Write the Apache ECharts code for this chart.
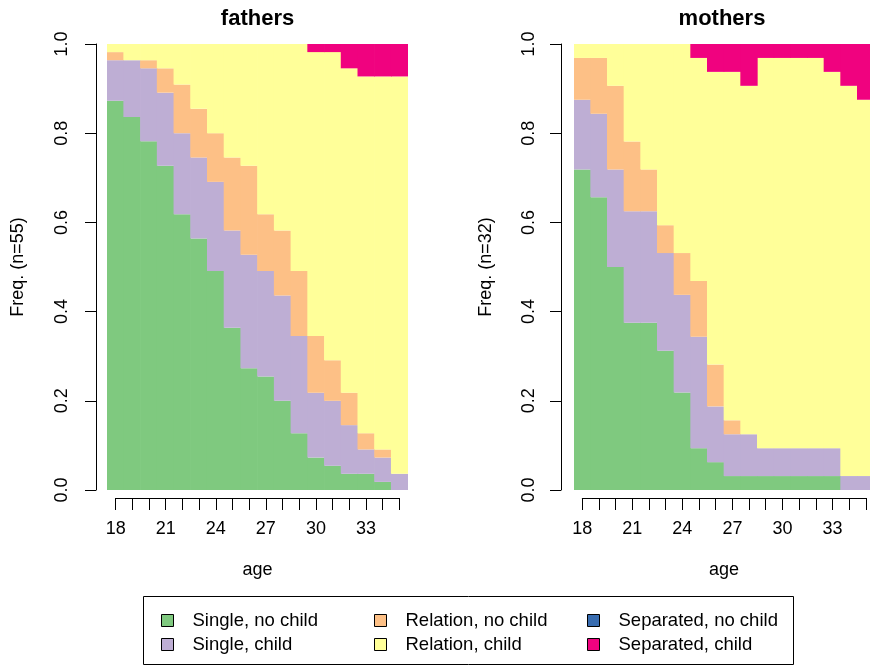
<!DOCTYPE html>
<html>
<head>
<meta charset="utf-8">
<script src="https://cdn.jsdelivr.net/npm/echarts@6/dist/echarts.min.js"></script>
<style>
    html, body { margin: 0; padding: 0; background: #fff; }
    #chart { width: 870px; height: 666px; }
</style>
</head>
<body>
<div id="chart"></div>
<script>
const ages = ['18', '19', '20', '21', '22', '23', '24', '25', '26', '27', '28', '29', '30', '31', '32', '33', '34', '35']
const tickLabels = ['18', '21', '24', '27', '30', '33']
const states = ['Single, no child', 'Single, child', 'Relation, no child', 'Relation, child', 'Separated, no child', 'Separated, child']
const stateColors = ['#7FC97F', '#BEAED4', '#FDC086', '#FFFF99', '#386CB0', '#F0027F']

// counts per age, fathers (n=55)
const fathersN = 55
const fathersSingleNoChild = [48, 46, 43, 40, 34, 31, 27, 20, 15, 14, 11, 7, 4, 3, 2, 2, 1, 0]
const fathersSingleChild = [5, 7, 9, 9, 10, 10, 11, 12, 14, 13, 13, 12, 8, 8, 6, 3, 3, 2]
const fathersRelationNoChild = [1, 0, 1, 3, 6, 6, 6, 9, 11, 7, 8, 8, 7, 5, 4, 2, 1, 0]
const fathersRelationChild = [1, 2, 2, 3, 5, 8, 11, 14, 15, 21, 23, 28, 35, 38, 40, 44, 46, 49]
const fathersSeparatedNoChild = [0, 0, 0, 0, 0, 0, 0, 0, 0, 0, 0, 0, 0, 0, 0, 0, 0, 0]
const fathersSeparatedChild = [0, 0, 0, 0, 0, 0, 0, 0, 0, 0, 0, 0, 1, 1, 3, 4, 4, 4]

// counts per age, mothers (n=32)
const mothersN = 32
const mothersSingleNoChild = [23, 21, 16, 12, 12, 10, 7, 3, 2, 1, 1, 1, 1, 1, 1, 1, 0, 0]
const mothersSingleChild = [5, 6, 7, 8, 8, 7, 7, 8, 4, 3, 3, 2, 2, 2, 2, 2, 1, 1]
const mothersRelationNoChild = [3, 4, 6, 5, 3, 2, 3, 4, 3, 1, 0, 0, 0, 0, 0, 0, 0, 0]
const mothersRelationChild = [1, 1, 3, 7, 9, 13, 15, 16, 21, 25, 25, 28, 28, 28, 28, 27, 28, 27]
const mothersSeparatedNoChild = [0, 0, 0, 0, 0, 0, 0, 0, 0, 0, 0, 0, 0, 0, 0, 0, 0, 0]
const mothersSeparatedChild = [0, 0, 0, 0, 0, 0, 0, 1, 2, 2, 3, 1, 1, 1, 1, 2, 3, 4]

const fathers = [fathersSingleNoChild, fathersSingleChild, fathersRelationNoChild, fathersRelationChild, fathersSeparatedNoChild, fathersSeparatedChild]
const mothers = [mothersSingleNoChild, mothersSingleChild, mothersRelationNoChild, mothersRelationChild, mothersSeparatedNoChild, mothersSeparatedChild]

const font = 'Liberation Sans, Arial, Helvetica, sans-serif'

// proportion of the group; empty cells left out
const share = (counts, n) => counts.map(c => c === 0 ? '-' : c / n)

const barSeries = (groups, n, idx, stack) => groups.map((counts, i) => ({
    name: states[i],
    type: 'bar',
    stack: stack,
    xAxisIndex: idx,
    yAxisIndex: idx,
    data: share(counts, n),
    // a touch wider than the band so neighbouring columns leave no seam
    barWidth: '104%',
    barCategoryGap: '0%',
    itemStyle: { color: stateColors[i] },
    emphasis: { disabled: true }
}))

const freqAxis = (idx, name, offset, nameGap, margin) => ({
    type: 'value',
    gridIndex: idx,
    min: 0,
    max: 1,
    interval: 0.2,
    offset: offset,
    name: name,
    nameLocation: 'middle',
    nameGap: nameGap,
    nameTextStyle: { fontSize: 18, color: '#000', fontFamily: font },
    axisLine: { show: true, lineStyle: { color: '#000', width: 1 } },
    axisTick: { show: true, inside: false, length: 11, lineStyle: { color: '#000' } },
    axisLabel: {
        rotate: 90,
        margin: margin,
        fontSize: 18,
        color: '#000',
        fontFamily: font,
        formatter: v => v.toFixed(1)
    },
    splitLine: { show: false }
})

const ageAxis = (idx) => ({
    type: 'category',
    gridIndex: idx,
    data: ages,
    boundaryGap: false,
    name: 'age',
    nameLocation: 'middle',
    nameGap: 63,
    nameTextStyle: { fontSize: 18, color: '#000', fontFamily: font },
    axisLine: { show: true, lineStyle: { color: '#000', width: 1 } },
    axisTick: { show: true, inside: false, length: 12, interval: 0, lineStyle: { color: '#000' } },
    axisLabel: {
        interval: 0,
        margin: 22,
        fontSize: 18,
        color: '#000',
        fontFamily: font,
        formatter: v => tickLabels.includes(v) ? v : ''
    }
})

const hiddenCat = (idx) => ({
    type: 'category',
    gridIndex: idx,
    data: ages,
    boundaryGap: true,
    show: false
})

const hiddenVal = (idx) => ({
    type: 'value',
    gridIndex: idx,
    min: 0,
    max: 1,
    show: false
})

const legendBlock = (left, names) => ({
    orient: 'vertical',
    left: left,
    top: 611,
    padding: 0,
    itemGap: 5,
    itemWidth: 12,
    itemHeight: 12,
    icon: 'rect',
    selectedMode: false,
    data: names,
    itemStyle: { borderColor: '#000', borderWidth: 1 },
    textStyle: { fontSize: 18.5, color: '#000', fontFamily: font, padding: [0, 0, 0, 14] }
})

const option = {
    animation: false,
    backgroundColor: '#fff',
    title: [
        { text: 'fathers', left: 257.5, top: 8, padding: 0, textAlign: 'center', textStyle: { fontSize: 22, fontWeight: 'bold', color: '#000', fontFamily: font } },
        { text: 'mothers', left: 722, top: 8, padding: 0, textAlign: 'center', textStyle: { fontSize: 22, fontWeight: 'bold', color: '#000', fontFamily: font } }
    ],
    legend: [
        legendBlock(161, [states[0], states[1]]),
        legendBlock(374, [states[2], states[3]]),
        legendBlock(587, [states[4], states[5]])
    ],
    grid: [
        { left: 107, top: 44, width: 301, height: 446, outerBoundsMode: 'none' },
        { left: 574, top: 44, width: 300, height: 446, outerBoundsMode: 'none' },
        { left: 115.7, top: 497, width: 283.6, height: 1, outerBoundsMode: 'none' },
        { left: 582.3, top: 497, width: 283.5, height: 1, outerBoundsMode: 'none' }
    ],
    xAxis: [hiddenCat(0), hiddenCat(1), ageAxis(2), ageAxis(3)],
    yAxis: [
        freqAxis(0, 'Freq. (n=55)', 11, 69, 25),
        freqAxis(1, 'Freq. (n=32)', 13, 66, 23),
        hiddenVal(2),
        hiddenVal(3)
    ],
    graphic: [{
        type: 'rect',
        shape: { x: 143.5, y: 596.5, width: 650, height: 68 },
        style: { fill: 'none', stroke: '#000', lineWidth: 1 },
        silent: true
    }],
    series: [
        ...barSeries(fathers, fathersN, 0, 'fathers'),
        ...barSeries(mothers, mothersN, 1, 'mothers')
    ]
}

const chart = echarts.init(document.getElementById('chart'), null, { renderer: 'canvas' })
chart.setOption(option)
</script>
</body>
</html>
